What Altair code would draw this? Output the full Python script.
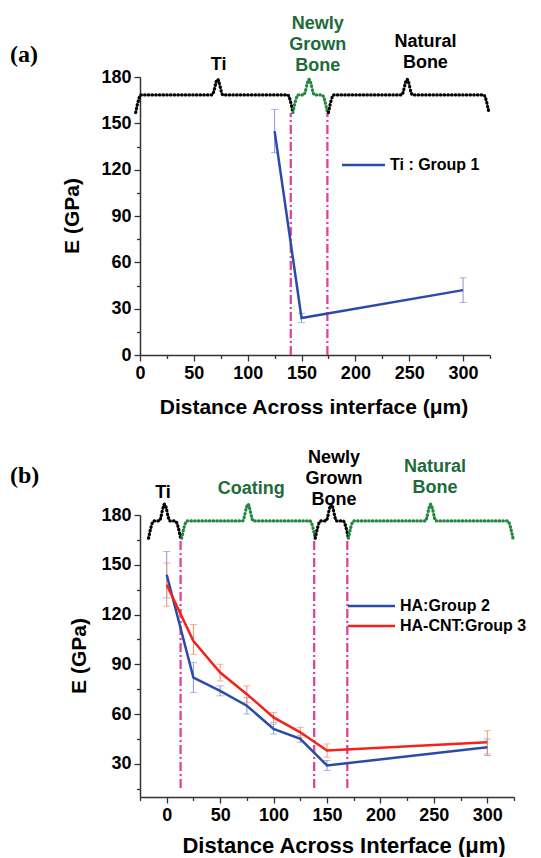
import altair as alt
import pandas as pd

FONT = "Liberation Sans"
SERIF = "Liberation Serif"
GREEN_TXT = "#1E6B3A"
GREEN_DOT = "#23883F"
PINK = "#E0449A"
BLUE = "#2B4BA8"
RED = "#F5221B"
BLUE_ERR = "#8C94DC"
RED_ERR = "#F5906E"
AXIS_COL = "#333333"

# ---------------- panel (a) data ----------------
a_x = [125, 150, 300]
a_E = [145, 24, 42]
a_lo = [131, 21, 34]
a_hi = [159, 27, 50]
a_series = "Ti : Group 1"
a_boundaries = [140, 174]
a_regions = ["Ti", "Newly\nGrown\nBone", "Natural\nBone"]
a_reg_start = [-4, 142, 175]
a_reg_end = [142, 174, 324]
a_reg_peak = [72, 157, 248]
a_reg_label_x = [73, 165, 265]
a_reg_label_y = [187.8, 214.4, 202.7]
a_reg_green = [False, True, False]
a_xticks = list(range(0, 326, 25))
a_yticks = list(range(0, 181, 15))

# ---------------- panel (b) data ----------------
b_x = [0, 25, 50, 75, 100, 125, 150, 300]
b_ha = [144, 82, 74, 65, 51, 45, 29, 40]
b_ha_lo = [130, 73, 71, 60, 48, 43, 26, 35]
b_ha_hi = [158, 91, 77, 70, 54, 47, 32, 45]
b_cnt = [138, 104, 85, 72, 58, 49, 38, 43]
b_cnt_lo = [125, 96, 80, 67, 55, 46, 34, 36]
b_cnt_hi = [151, 114, 90, 77, 61, 52, 42, 50]
b_series = ["HA:Group 2", "HA-CNT:Group 3"]
b_boundaries = [13, 138, 169]
b_regions = ["Ti", "Coating", "Newly\nGrown\nBone", "Natural\nBone"]
b_reg_start = [-17, 14, 139, 170]
b_reg_end = [13, 139, 170, 324]
b_reg_peak = [-2, 76, 154, 247]
b_reg_label_x = [-3.5, 79, 156.6, 251]
b_reg_label_y = [193.3, 195.7, 214.4, 208.9]
b_reg_green = [False, True, False, True]
b_xticks = list(range(-25, 326, 25))
b_yticks = list(range(15, 181, 15))

y_title = "E (GPa)"
a_x_title = "Distance Across interface (\u03bcm)"
b_x_title = "Distance Across Interface (\u03bcm)"


def brace_df(starts, ends, peaks, greens, y_end, y_mid, y_peak, d=5, w=5):
    rows = []
    for k, (x0, x1, xp, g) in enumerate(zip(starts, ends, peaks, greens)):
        pts = [(x0, y_end), (x0 + d, y_mid), (xp - w, y_mid), (xp, y_peak),
               (xp + w, y_mid), (x1 - d, y_mid), (x1, y_end)]
        for i, (px, py) in enumerate(pts):
            rows.append({"r": k, "i": i, "x": px, "y": py,
                         "c": GREEN_DOT if g else "black"})
    return pd.DataFrame(rows)


def label_df(labels, xs, ys, greens):
    return pd.DataFrame({"t": labels, "x": xs, "y": ys,
                         "c": [GREEN_TXT if g else "black" for g in greens]})


one = pd.DataFrame({"d": [0]})


def ptext(txt, x, y, size, font=FONT, angle=0, color="black", align="center", baseline="middle"):
    return alt.Chart(one).mark_text(
        text=txt, fontSize=size, font=font, fontWeight="bold", angle=angle,
        color=color, align=align, baseline=baseline
    ).encode(x=alt.value(x), y=alt.value(y))


def make_axis(values, major, orient):
    return alt.Axis(
        values=values,
        tickSize={"expr": f"datum.value % {major} === 0 ? 6 : 3.5"},
        labelExpr=f"datum.value % {major} === 0 ? datum.label : ''",
        title=None, grid=False, labelFlush=False, orient=orient,
        labelPadding=3,
    )


def panel(W, H, xdom, ydom, xticks, yticks, series_list, boundaries, rule_top_px, rule_bot_px,
          braces, labels, legend, tag, tag_y, ytitle_x, xtitle_x, xtitle_y, xtitle, xtitle_size,
          anchor=False):
    xs = alt.Scale(domain=xdom, nice=False, zero=False)
    ys = alt.Scale(domain=ydom, nice=False, zero=False)
    xa = make_axis(xticks, 50, "bottom")
    ya = make_axis(yticks, 30, "left")

    def X(f):
        return alt.X(f, scale=xs, axis=xa)

    def Y(f):
        return alt.Y(f, scale=ys, axis=ya)

    layers = []
    if anchor:
        layers.append(alt.Chart(one).mark_rule(opacity=0, strokeWidth=0.01).encode(
            x=alt.value(-132), x2=alt.value(-131), y=alt.value(-69), y2=alt.value(-68)))
    bdf = pd.DataFrame({"x": boundaries})
    layers.append(alt.Chart(bdf).mark_rule(color=PINK, strokeWidth=2.3, strokeDash=[9, 3, 2, 3]).encode(
        x=X("x:Q"), y=alt.value(rule_bot_px), y2=alt.value(rule_top_px)))
    for (xv, ev, lo, hi, col, ecol, name) in series_list:
        df = pd.DataFrame({"x": xv, "E": ev, "lo": lo, "hi": hi})
        base = alt.Chart(df)
        layers.append(base.mark_rule(color=ecol, strokeWidth=1).encode(
            x=X("x:Q"), y=Y("lo:Q"), y2="hi:Q"))
        for f in ["lo", "hi"]:
            layers.append(base.mark_tick(color=ecol, orient="horizontal", size=7, thickness=1).encode(
                x=X("x:Q"), y=Y(f + ":Q")))
    for (xv, ev, lo, hi, col, ecol, name) in series_list:
        df = pd.DataFrame({"x": xv, "E": ev})
        layers.append(alt.Chart(df).mark_line(color=col, strokeWidth=2.5).encode(
            x=X("x:Q"), y=Y("E:Q")))
    # braces
    layers.append(alt.Chart(braces).mark_line(
        strokeWidth=3.2, strokeDash=[0.5, 3.2], strokeCap="round", interpolate="monotone").encode(
        x=X("x:Q"), y=Y("y:Q"),
        detail="r:N", order="i:Q", color=alt.Color("c:N", scale=None)))
    layers.append(alt.Chart(labels).mark_text(
        font=FONT, fontWeight="bold", fontSize=18, lineBreak="\n", lineHeight=21,
        baseline="middle", align="center").encode(
        x=X("x:Q"), y=Y("y:Q"),
        text="t:N", color=alt.Color("c:N", scale=None)))
    # legend
    for (name, col, lx0, lx1, ly, tx) in legend:
        layers.append(alt.Chart(one).mark_rule(color=col, strokeWidth=2.5).encode(
            x=alt.value(lx0), x2=alt.value(lx1), y=alt.value(ly)))
        layers.append(ptext(name, tx, ly, 16, align="left"))
    layers.append(ptext(tag, -130, tag_y, 24, font=SERIF, align="left"))
    layers.append(ptext(y_title, ytitle_x, H / 2, 21, angle=270))
    layers.append(ptext(xtitle, xtitle_x, xtitle_y, xtitle_size))
    return alt.layer(*layers).properties(width=W, height=H)


a_braces = brace_df(a_reg_start, a_reg_end, a_reg_peak, a_reg_green, 157, 168.4, 178.5)
a_labels = label_df(a_regions, a_reg_label_x, a_reg_label_y, a_reg_green)
b_braces = brace_df(b_reg_start, b_reg_end, b_reg_peak, b_reg_green, 166, 176.4, 186.5)
b_labels = label_df(b_regions, b_reg_label_x, b_reg_label_y, b_reg_green)

pa = panel(350, 278, [0, 325], [0, 180], a_xticks, a_yticks,
           [(a_x, a_E, a_lo, a_hi, BLUE, BLUE_ERR, a_series)],
           a_boundaries, 36, 278, a_braces, a_labels,
           [(a_series, BLUE, 202, 245, 88, 250)],
           "(a)", -22, -67, 174, 331, a_x_title, 21, anchor=True)

pb = panel(374, 282, [-25, 325], [10, 180], b_xticks, b_yticks,
           [(b_x, b_ha, b_ha_lo, b_ha_hi, BLUE, BLUE_ERR, b_series[0]),
            (b_x, b_cnt, b_cnt_lo, b_cnt_hi, RED, RED_ERR, b_series[1])],
           b_boundaries, 25, 273, b_braces, b_labels,
           [(b_series[0], BLUE, 208, 255, 91, 260), (b_series[1], RED, 208, 255, 111, 260)],
           "(b)", -39, -60, 204, 331, b_x_title, 22)

chart = alt.vconcat(pa, pb, spacing=160, bounds="flush", padding=0).configure_view(
    strokeWidth=0
).configure_axis(
    labelFont=FONT, labelFontSize=18, labelFontWeight="bold", labelColor="black",
    domainColor=AXIS_COL, domainWidth=1.5, tickColor=AXIS_COL, tickWidth=1.3,
)

chart.save("out.html", embed_options={"renderer": "svg", "actions": False})
